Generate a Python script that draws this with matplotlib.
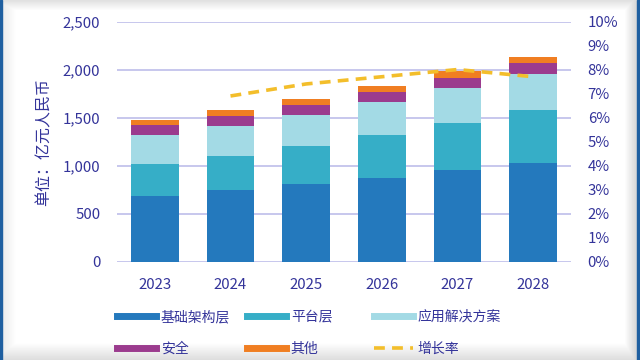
import numpy as np
import matplotlib
matplotlib.use("Agg")
from matplotlib import pyplot as plt
from matplotlib.lines import Line2D

plt.rcParams['font.family'] = ['Noto Sans CJK SC', 'DejaVu Sans']

years = ["2023", "2024", "2025", "2026", "2027", "2028"]
infra = [687, 744, 810, 872, 952, 1032]        # 基础架构层
platform = [331, 361, 399, 451, 496, 549]      # 平台层
apps = [305, 312, 323, 334, 355, 375]          # 应用解决方案
security = [98, 104, 101, 114, 114, 111]       # 安全
other = [55, 56, 65, 56, 67, 63]               # 其他
growth_years = ["2024", "2025", "2026", "2027", "2028"]
growth = [6.9, 7.4, 7.7, 8.0, 7.7]             # 增长率 %

names = ["基础架构层", "平台层", "应用解决方案", "安全", "其他"]
colors = ["#2479BD", "#36AEC7", "#A3DAE5", "#9B3B8E", "#F07E22"]
txt = "#34349A"
grid_c = "#BDBDEA"
line_c = "#F3BE2B"

fig = plt.figure(figsize=(6.4, 3.6), dpi=100)

# screenshot frame: soft shading + blue edges
h, w = 360, 640
yy, xx = np.mgrid[0:h, 0:w]
shade = np.zeros((h, w))
shade = np.maximum(shade, np.clip(1 - yy / 10, 0, 1) * 0.12)
shade = np.maximum(shade, np.clip(1 - (h - yy) / 18, 0, 1) * 0.14)
shade = np.maximum(shade, np.clip(1 - (w - 4 - xx) / 12, 0, 1) * 0.16)
shade = np.maximum(shade, np.clip(1 - (xx - 2) / 14, 0, 1) * 0.08)
bg = fig.add_axes([0, 0, 1, 1])
bg.imshow(1 - shade, cmap="gray", vmin=0, vmax=1, aspect="auto")
bg.axvspan(-0.5, 1.8, color="#1F5FA0")
bg.axvspan(636.5, 639.5, color="#1F5FA0")
bg.set_xlim(-0.5, w - 0.5)
bg.set_ylim(h - 0.5, -0.5)
bg.axis("off")

ax = fig.add_axes([117 / 640, 1 - 261.7 / 360, (571 - 117) / 640, (261.7 - 21.5) / 360])
ax.patch.set_alpha(0)
x = np.arange(len(years))
bottom = np.zeros(len(years))
for vals, c, n in zip([infra, platform, apps, security, other], colors, names):
    ax.bar(x, vals, width=0.63, bottom=bottom, color=c, label=n, zorder=2)
    bottom += np.array(vals)

ax.set_xlim(-0.5, 5.5)
ax.set_ylim(0, 2500)
ax.set_yticks([0, 500, 1000, 1500, 2000, 2500])
ax.set_yticklabels(["0", "500", "1,000", "1,500", "2,000", "2,500"])
ax.set_xticks(x)
ax.set_xticklabels(years)
ax.yaxis.grid(True, color=grid_c, linewidth=1.2, zorder=0)
ax.set_axisbelow(True)
for s in ax.spines.values():
    s.set_visible(False)
ax.tick_params(axis="both", length=0, colors=txt, labelsize=10.8)
ax.tick_params(axis="y", pad=12)
ax.tick_params(axis="x", pad=12)
ax.set_ylabel("单位：亿元人民币", color=txt, fontsize=11.5, labelpad=7)

ax2 = ax.twinx()
gx = [years.index(g) for g in growth_years]
ax2.plot(gx, growth, color=line_c, linewidth=2.6, linestyle=(0, (3, 2)), zorder=3)
ax2.set_ylim(0, 10)
ax2.set_yticks(range(0, 11))
ax2.set_yticklabels([f"{i}%" for i in range(0, 11)])
for s in ax2.spines.values():
    s.set_visible(False)
ax2.tick_params(axis="y", length=0, colors=txt, labelsize=10.8, pad=12)

# legend in three fixed-width columns
hs = [Line2D([], [], color=c, linewidth=5) for c in colors]
hs.append(Line2D([], [], color=line_c, linewidth=2.6, linestyle=(0, (3, 2))))
labs = names + ["增长率"]
cols = [(0, 3), (1, 4), (2, 5)]
xs = [117 / 640, 247 / 640, 374 / 640]
for (a, b), lx in zip(cols, xs):
    leg = fig.legend([hs[a], hs[b]], [labs[a], labs[b]], loc="upper left",
                     bbox_to_anchor=(lx, 1 - 310 / 360), frameon=False,
                     borderpad=0, borderaxespad=0, handlelength=2.8,
                     handletextpad=0.35, labelspacing=1.3, fontsize=10)
    for t in leg.get_texts():
        t.set_color(txt)

fig.savefig("out.png", dpi=100)
